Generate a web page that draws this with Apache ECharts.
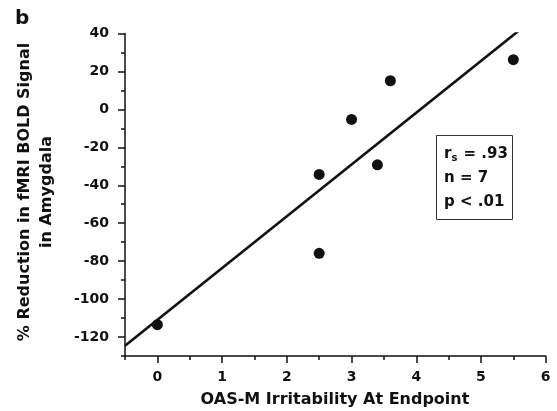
<!DOCTYPE html>
<html>
<head>
<meta charset="utf-8">
<script src="https://cdn.jsdelivr.net/npm/echarts@6/dist/echarts.min.js"></script>
<style>html,body{margin:0;padding:0;background:#fff}#c{width:557px;height:411px}</style>
</head>
<body>
<div id="c"></div>
<script>
// Data
var oasIrritability = [0, 2.5, 2.5, 3.0, 3.4, 3.6, 5.5];
var boldReduction   = [-113.5, -34.3, -75.9, -5.3, -29.2, 15.1, 26.2];
var xTickLabels = [0, 1, 2, 3, 4, 5, 6];
var xMinorTicks = [-0.5, 0.5, 1.5, 2.5, 3.5, 4.5, 5.5];
var yTickLabels = [-120, -100, -80, -60, -40, -20, 0, 20, 40];
var yMinorTicks = [-130, -110, -90, -70, -50, -30, -10, 10, 30];
var statsLines = ['r_s = .93', 'n = 7', 'p < .01'];

var FONT = '"DejaVu Sans", sans-serif';
var INK = '#111111';

// least-squares fit line from the data
var n = oasIrritability.length, mx = 0, my = 0;
for (var i = 0; i < n; i++) { mx += oasIrritability[i]; my += boldReduction[i]; }
mx /= n; my /= n;
var sxx = 0, sxy = 0;
for (var i = 0; i < n; i++) {
  sxx += (oasIrritability[i] - mx) * (oasIrritability[i] - mx);
  sxy += (oasIrritability[i] - mx) * (boldReduction[i] - my);
}
var slope = sxy / sxx, icpt = my - slope * mx;
var fitLine = [[-0.5, icpt + slope * -0.5], [6, icpt + slope * 6]];

var points = oasIrritability.map(function (x, i) { return [x, boldReduction[i]]; });

var chart = echarts.init(document.getElementById('c'), null, {renderer: 'canvas'});
chart.setOption({
  animation: false,
  backgroundColor: '#fff',
  grid: {left: 125, top: 33.5, right: 11.3, bottom: 55, containLabel: false},
  xAxis: [{
    type: 'value', min: -0.5, max: 6, interval: 0.5, position: 'bottom',
    axisLine: {show: true, onZero: false, lineStyle: {color: INK, width: 1.5}},
    axisTick: {show: true, customValues: xTickLabels, length: 7, lineStyle: {color: INK, width: 1.5}},
    axisLabel: {show: true, customValues: xTickLabels, margin: 14, color: INK,
      fontFamily: FONT, fontWeight: 'bold', fontSize: 14},
    splitLine: {show: false}
  }, {
    type: 'value', min: -0.5, max: 6, interval: 0.5, position: 'bottom', offset: 0,
    axisLine: {show: false, onZero: false},
    axisTick: {show: true, customValues: xMinorTicks, length: 4, lineStyle: {color: INK, width: 1.5}},
    axisLabel: {show: false},
    splitLine: {show: false}
  }],
  yAxis: [{
    type: 'value', min: -130, max: 40, interval: 10, position: 'left',
    axisLine: {show: true, onZero: false, lineStyle: {color: INK, width: 1.5}},
    axisTick: {show: true, customValues: yTickLabels, length: 7, lineStyle: {color: INK, width: 1.5}},
    axisLabel: {show: true, customValues: yTickLabels, margin: 16, color: INK,
      fontFamily: FONT, fontWeight: 'bold', fontSize: 14},
    splitLine: {show: false}
  }, {
    type: 'value', min: -130, max: 40, interval: 10, position: 'left', offset: 0,
    axisLine: {show: false, onZero: false},
    axisTick: {show: true, customValues: yMinorTicks, length: 4, lineStyle: {color: INK, width: 1.5}},
    axisLabel: {show: false},
    splitLine: {show: false}
  }],
  series: [{
    type: 'line', data: fitLine, xAxisIndex: 0, yAxisIndex: 0,
    showSymbol: false, clip: true, lineStyle: {color: INK, width: 2.6}, silent: true, z: 2
  }, {
    type: 'scatter', data: points, xAxisIndex: 0, yAxisIndex: 0,
    symbol: 'circle', symbolSize: 11, itemStyle: {color: INK, opacity: 1}, z: 3
  }],
  graphic: [
    {type: 'text', left: 15, top: 9, style: {text: 'b', fill: INK, font: 'bold 20px ' + FONT}},
    {type: 'text', x: 335, y: 400, style: {text: 'OAS-M Irritability At Endpoint', fill: INK,
      font: 'bold 16px ' + FONT, textAlign: 'center', textVerticalAlign: 'middle'}},
    {type: 'text', x: 36, y: 192, rotation: Math.PI / 2, style: {
      text: '% Reduction in fMRI BOLD Signal\nin Amygdala', fill: INK, lineHeight: 22,
      font: 'bold 16px ' + FONT, textAlign: 'center', textVerticalAlign: 'middle'}},
    {type: 'rect', shape: {x: 436.5, y: 135.5, width: 76, height: 84},
      style: {fill: '#fff', stroke: '#333', lineWidth: 1}},
    {type: 'text', x: 444, y: 154, style: {
      rich: {
        m: {fontFamily: FONT, fontWeight: 'bold', fontSize: 15, fill: INK},
        s: {fontFamily: FONT, fontWeight: 'bold', fontSize: 10, fill: INK, padding: [9, 1, 0, 0]}
      },
      text: '{m|r}{s|s}{m|' + statsLines[0].slice(3) + '}', textVerticalAlign: 'middle'}},
    {type: 'text', x: 444, y: 178, style: {text: statsLines[1], fill: INK,
      font: 'bold 15px ' + FONT, textVerticalAlign: 'middle'}},
    {type: 'text', x: 444, y: 202, style: {text: statsLines[2], fill: INK,
      font: 'bold 15px ' + FONT, textVerticalAlign: 'middle'}}
  ]
});
</script>
</body>
</html>
